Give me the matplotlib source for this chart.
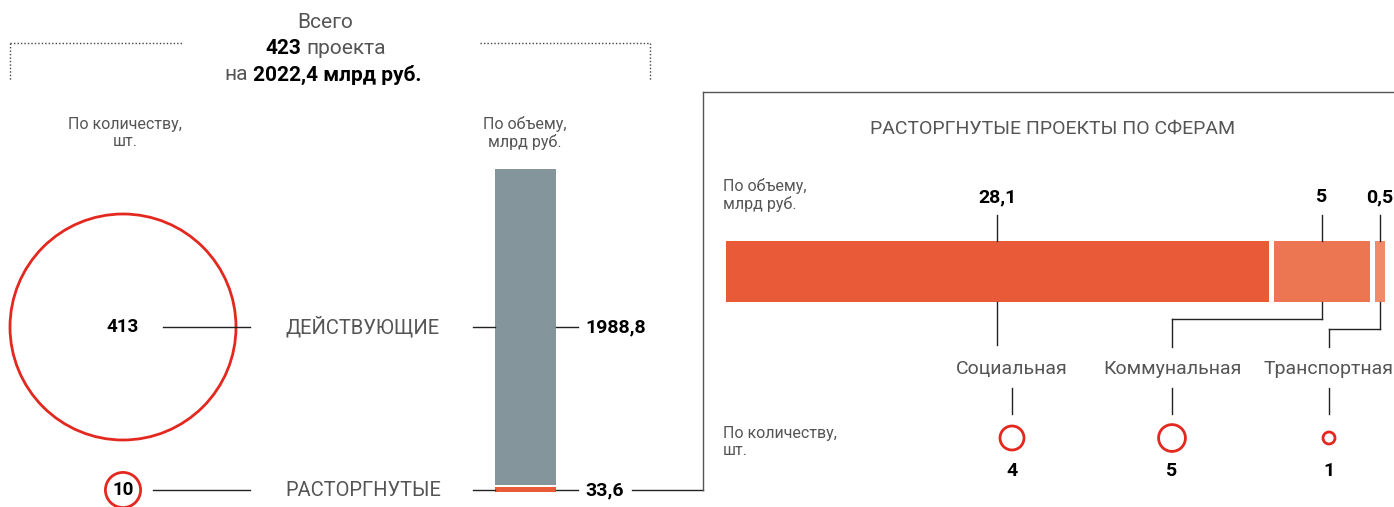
import numpy as np
import matplotlib
matplotlib.use('Agg')
import matplotlib.pyplot as plt
from matplotlib.patches import Circle

plt.rcParams['font.family'] = ['Roboto', 'DejaVu Sans']

# data
total_count = 423
total_volume = 2022.4
status_labels = ['ДЕЙСТВУЮЩИЕ', 'РАСТОРГНУТЫЕ']
status_counts = [413, 10]
status_volumes = [1988.8, 33.6]
sphere_names = ['Социальная', 'Коммунальная', 'Транспортная']
sphere_volumes = [28.1, 5, 0.5]
sphere_counts = [4, 5, 1]

RED = '#e3281f'
GRAY_BAR = '#84969b'
ORANGES = ['#e85a38', '#ec7552', '#f08a68']
TXT = '#555555'
LINE = '#222222'
SMALL = 11.5

def fmt(v):
    return ('%g' % v).replace('.', ',')

fig = plt.figure(figsize=(13.94, 5.07), dpi=100)
ax = fig.add_axes([0, 0, 1, 1])
ax.set_xlim(0, 1394)
ax.set_ylim(507, 0)
ax.axis('off')

def hline(x0, x1, y, **kw):
    ax.plot([x0, x1], [y, y], color=kw.get('color', LINE), lw=kw.get('lw', 1), ls=kw.get('ls', '-'))

def vline(x, y0, y1, **kw):
    ax.plot([x, x], [y0, y1], color=kw.get('color', LINE), lw=kw.get('lw', 1), ls=kw.get('ls', '-'))

# header
ax.text(325, 22, 'Всего', ha='center', va='center', fontsize=15, color=TXT)
ax.text(301, 48, str(total_count), ha='right', va='center', fontsize=15, color='black', fontweight='bold')
ax.text(306, 48, 'проекта', ha='left', va='center', fontsize=15, color=TXT)
ax.text(248, 75, 'на', ha='right', va='center', fontsize=15, color=TXT)
ax.text(253, 75, fmt(total_volume) + ' млрд руб.', ha='left', va='center', fontsize=15,
        color='black', fontweight='bold')
dot = dict(color='#444444', lw=1, ls=(0, (1, 1.5)))
hline(10, 182, 43, **dot)
vline(10, 43, 80, **dot)
hline(480, 650, 43, **dot)
vline(650, 43, 80, **dot)

ax.text(125, 133, 'По количеству,\nшт.', ha='center', va='center', fontsize=SMALL, color=TXT, linespacing=1.15)
ax.text(525, 133, 'По объему,\nмлрд руб.', ha='center', va='center', fontsize=SMALL, color=TXT, linespacing=1.15)

# left: circles by count
row_y = [327, 490]
R_MAX = 113
cx = 123
for i in range(len(status_counts)):
    r = R_MAX * np.sqrt(status_counts[i] / status_counts[0])
    ax.add_patch(Circle((cx, row_y[i]), r, fill=False, ec=RED, lw=2))
    ax.text(cx, row_y[i], str(status_counts[i]), ha='center', va='center', fontsize=13.5,
            fontweight='bold', color='black')
    x0 = cx + 40 if i == 0 else cx + 30
    hline(x0, 250, row_y[i])
    ax.text(363, row_y[i], status_labels[i], ha='center', va='center', fontsize=14.5, color=TXT)
    hline(473, 495, row_y[i])
    hline(556, 578, row_y[i])
    ax.text(585, row_y[i], fmt(status_volumes[i]), ha='left', va='center', fontsize=14,
            fontweight='bold', color='black')

# middle: stacked volume bar
k = 316 / status_volumes[0]
bar_bottom = 492
gap = 2
h_red = status_volumes[1] * k
ax.bar(525.5, -h_red, bottom=bar_bottom, width=61, color=ORANGES[0])
ax.bar(525.5, -status_volumes[0] * k, bottom=bar_bottom - h_red - gap, width=61, color=GRAY_BAR)

# connector to right panel
hline(632, 703, 490)
box = dict(color='#555555', lw=1)
vline(703, 92, 490, **box)
hline(703, 1394, 92, **box)

ax.text(1053, 129, 'РАСТОРГНУТЫЕ ПРОЕКТЫ ПО СФЕРАМ', ha='center', va='center', fontsize=14, color=TXT)
ax.text(723, 195, 'По объему,\nмлрд руб.', ha='left', va='center', fontsize=SMALL, color=TXT, linespacing=1.15)
ax.text(723, 442, 'По количеству,\nшт.', ha='left', va='center', fontsize=SMALL, color=TXT, linespacing=1.15)

# right: horizontal split bar
hx0 = 726
hx1 = 1385
seg_gap = 5
k2 = (hx1 - hx0 - seg_gap * (len(sphere_volumes) - 1)) / sum(sphere_volumes)
bar_top, bar_bot = 241, 302
left = hx0
centers = []
for i in range(len(sphere_volumes)):
    w = sphere_volumes[i] * k2
    ax.barh((bar_top + bar_bot) / 2, w, left=left, height=bar_bot - bar_top, color=ORANGES[i])
    centers.append(left + w / 2)
    left += w + seg_gap

label_x = [1012, 1172, 1329]
elbow_y = [None, 319, 329]
circle_r = 6.0
for i in range(len(sphere_names)):
    c = centers[i]
    ax.text(c, 197, fmt(sphere_volumes[i]), ha='center', va='center', fontsize=14,
            fontweight='bold', color='black')
    vline(c, 215, bar_top)
    if elbow_y[i] is None:
        vline(c, bar_bot, 345)
    else:
        vline(c, bar_bot, elbow_y[i])
        hline(label_x[i], c, elbow_y[i])
        vline(label_x[i], elbow_y[i], 347)
    ax.text(label_x[i], 369, sphere_names[i], ha='center', va='center', fontsize=14, color=TXT)
    vline(label_x[i], 388, 414)
    r = circle_r * np.sqrt(sphere_counts[i])
    ax.add_patch(Circle((label_x[i], 438), r, fill=False, ec=RED, lw=2))
    ax.text(label_x[i], 471, str(sphere_counts[i]), ha='center', va='center', fontsize=14,
            fontweight='bold', color='black')

fig.savefig('out.png', dpi=100)
